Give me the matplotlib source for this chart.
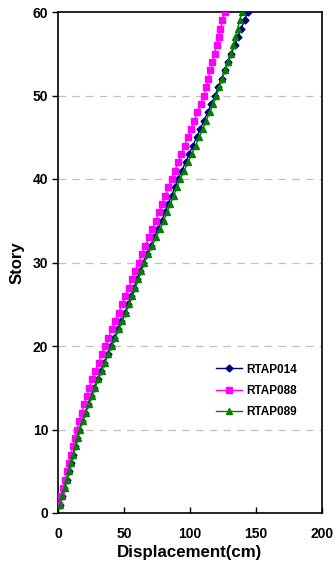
import matplotlib
matplotlib.use("Agg")
import matplotlib.pyplot as plt

stories = list(range(1, 61))

rtap014 = [1.4, 3.1, 4.8, 6.6, 8.3,
           9.8, 11.4, 12.9, 14.5, 16.0,
           18.3, 20.6, 22.9, 25.2, 27.5,
           30.0, 32.5, 35.0, 37.5, 40.0,
           42.7, 45.3, 48.0, 50.6, 53.3,
           55.5, 57.7, 59.9, 62.2, 64.5,
           67.3, 70.1, 72.9, 75.7, 78.5,
           81.0, 83.5, 86.0, 88.5, 91.0,
           93.8, 96.6, 99.4, 102.2, 105.0,
           107.8, 110.6, 113.4, 116.2, 119.0,
           121.5, 124.0, 126.5, 128.9, 131.3,
           133.8, 136.3, 138.8, 141.3, 143.9]

rtap088 = [0.7, 2.2, 3.6, 5.2, 6.8,
           8.3, 9.8, 11.3, 12.9, 14.4,
           16.1, 17.9, 19.8, 21.7, 23.7,
           26.0, 28.4, 30.8, 33.2, 35.7,
           38.2, 40.8, 43.3, 45.9, 48.5,
           51.0, 53.5, 56.0, 58.5, 61.0,
           63.6, 66.2, 68.8, 71.4, 74.0,
           76.4, 78.8, 81.2, 83.6, 86.0,
           88.5, 91.0, 93.4, 95.9, 98.3,
           100.7, 103.2, 105.6, 108.1, 110.5,
           112.2, 113.8, 115.4, 117.0, 118.6,
           120.1, 121.6, 123.1, 124.6, 126.2]

rtap089 = [1.5, 3.3, 5.0, 6.8, 8.6,
           10.1, 11.7, 13.3, 14.9, 16.5,
           18.7, 21.0, 23.3, 25.6, 28.0,
           30.5, 33.0, 35.5, 38.1, 40.7,
           43.4, 46.0, 48.7, 51.3, 54.0,
           56.3, 58.6, 60.9, 63.2, 65.5,
           68.4, 71.3, 74.2, 77.1, 80.0,
           82.5, 85.0, 87.6, 90.1, 92.6,
           95.5, 98.4, 101.3, 104.2, 107.0,
           109.6, 112.2, 114.8, 117.4, 120.0,
           122.2, 124.4, 126.6, 128.8, 131.0,
           132.7, 134.4, 136.0, 137.7, 139.3]

x_ticks = [0, 50, 100, 150, 200]
y_ticks = [0, 10, 20, 30, 40, 50, 60]

plt.rcParams['font.family'] = ['Liberation Sans', 'DejaVu Sans']

fig = plt.figure(figsize=(3.36, 5.70), dpi=100)
ax = fig.add_axes([58/336, 57/570, 264/336, 501/570])

ax.plot(rtap014, stories, color='#000080', marker='D', markersize=3.5, linewidth=1.0, label='RTAP014', zorder=3)
ax.plot(rtap088, stories, color='#FF00FF', marker='s', markersize=4.5, linewidth=1.0, label='RTAP088', zorder=3)
ax.plot(rtap089, stories, color='#008000', marker='^', markersize=5, linewidth=1.0, label='RTAP089', zorder=4)

ax.set_xlim(0, 200)
ax.set_ylim(0, 60)
ax.set_xticks(x_ticks)
ax.set_yticks(y_ticks)
for y in y_ticks[1:-1]:
    ax.axhline(y, color='#c0c0c0', linestyle=(0, (6, 5)), linewidth=0.9, zorder=1)

ax.tick_params(axis='x', direction='in', length=4, width=1, labelsize=10, pad=10)
ax.tick_params(axis='y', direction='out', length=4, width=1, labelsize=10, pad=3)
for lab in ax.get_xticklabels() + ax.get_yticklabels():
    lab.set_fontweight('bold')
for sp in ax.spines.values():
    sp.set_linewidth(1.2)

ax.set_xlabel('Displacement(cm)', fontsize=12.2, fontweight='bold', labelpad=3)
ax.set_ylabel('Story', fontsize=12, fontweight='bold', labelpad=6)

leg = ax.legend(loc='center left', bbox_to_anchor=(0.56, 0.2435), frameon=False,
                prop={'weight': 'bold', 'size': 8.5}, handlelength=2.2,
                handletextpad=0.3, labelspacing=0.8)

fig.savefig('out.png', dpi=100)
